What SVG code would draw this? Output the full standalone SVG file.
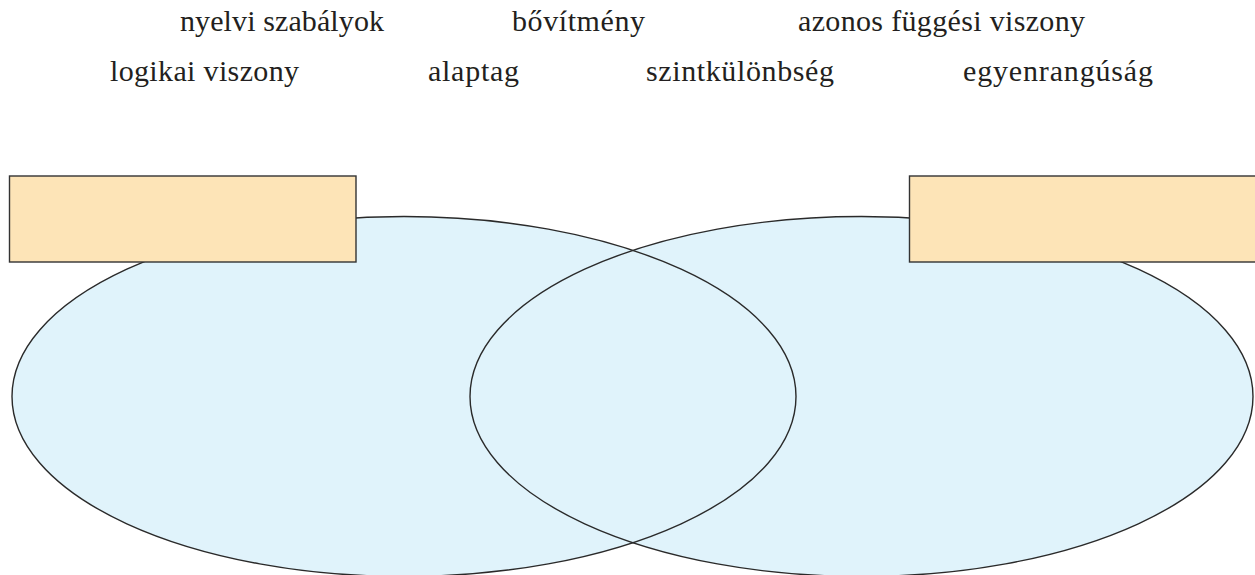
<svg xmlns="http://www.w3.org/2000/svg" width="1255" height="575" viewBox="0 0 1255 575">
<style>
.set{fill:#e0f3fb;stroke:none}
.outline{fill:none;stroke:#2a2a2a;stroke-width:1.4}
.box{fill:#fde4b7;stroke:#333;stroke-width:1.4}
.word{font-family:"Liberation Serif","DejaVu Serif",serif;font-size:30px;fill:#231f20}
</style>
<rect width="1255" height="575" fill="#fff"/>
<g id="fills">
<ellipse class="set" cx="404" cy="396.5" rx="392" ry="180"/>
<ellipse class="set" cx="861.5" cy="396.5" rx="391.5" ry="180"/>
</g>
<g id="left-set"><ellipse class="outline" cx="404" cy="396.5" rx="392" ry="180"/></g>
<g id="right-set"><ellipse class="outline" cx="861.5" cy="396.5" rx="391.5" ry="180"/></g>
<g id="left-box"><rect class="box" x="9.5" y="176" width="346.5" height="86"/></g>
<g id="right-box"><rect class="box" x="909.5" y="176" width="360" height="86"/></g>
<g id="words">
<text class="word" x="180" y="31" textLength="204">nyelvi szabályok</text>
<text class="word" x="512" y="31" textLength="133">bővítmény</text>
<text class="word" x="798" y="31" textLength="287">azonos függési viszony</text>
<text class="word" x="110" y="81" textLength="189">logikai viszony</text>
<text class="word" x="428" y="81" textLength="91">alaptag</text>
<text class="word" x="646" y="81" textLength="188">szintkülönbség</text>
<text class="word" x="963" y="81" textLength="190">egyenrangúság</text>
</g>
</svg>
